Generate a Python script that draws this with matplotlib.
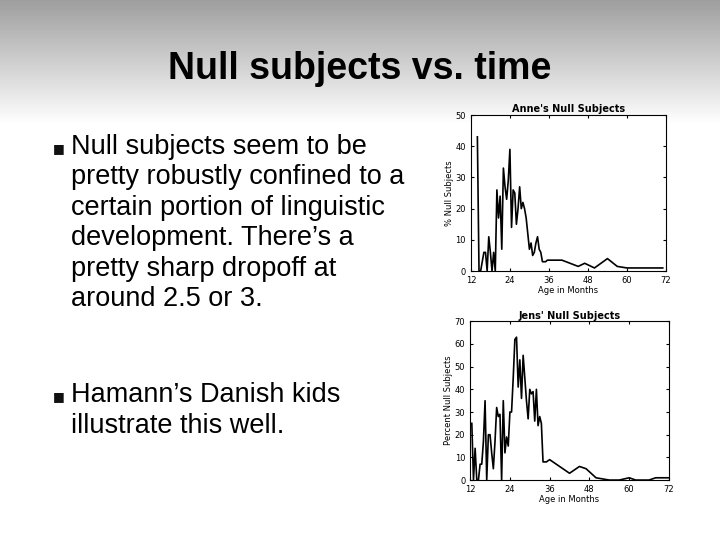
import numpy as np
import matplotlib
matplotlib.use("Agg")
import matplotlib.pyplot as plt

title = "Null subjects vs. time"
bullets = [
    "Null subjects seem to be\npretty robustly confined to a\ncertain portion of linguistic\ndevelopment. There\u2019s a\npretty sharp dropoff at\naround 2.5 or 3.",
    "Hamann\u2019s Danish kids\nillustrate this well.",
]

anne_age = [14, 14.5, 15, 16, 16.5, 17, 17.5, 18, 18.5, 19, 19.5, 20, 20.5, 21, 21.5,
            22, 22.5, 23, 23.5, 24, 24.5, 25, 25.5, 26, 26.5, 27, 27.5, 28, 28.5, 29,
            30, 30.5, 31, 31.5, 32, 32.5, 33, 33.5, 34, 35, 35.5, 36, 40, 45, 47, 50,
            54, 57, 60, 66, 71]
anne_null = [43, 0, 0, 6, 6, 0, 11, 6, 0, 6, 0, 26, 17, 24, 7,
             33, 27, 23, 29, 39, 14, 26, 25, 15, 20, 27, 20, 22, 20, 17,
             7, 9, 5, 6, 9, 11, 7, 6, 3, 3, 3.5, 3.5, 3.5, 1.5, 2.5, 1,
             4, 1.5, 1, 1, 1]

jens_age = [12.5, 13, 13.5, 14, 14.5, 15, 15.5, 16, 16.5, 17, 17.5, 18, 18.5, 19, 19.5,
            20, 20.5, 21, 21.5, 22, 22.5, 23, 23.5, 24, 24.5, 25, 25.5, 26, 26.5, 27,
            27.5, 28, 28.5, 29, 29.5, 30, 30.5, 31, 31.5, 32, 32.5, 33, 33.5, 34, 35,
            36, 42, 45, 47, 50, 54, 57, 60, 62, 66, 68, 72]
jens_null = [25, 0, 14, 0, 0, 7, 7, 17, 35, 0, 20, 20, 12, 5, 17,
             32, 28, 29, 0, 35, 12, 19, 15, 30, 30, 45, 62, 63, 41, 53,
             36, 55, 45, 35, 27, 40, 38, 39, 26, 40, 24, 28, 25, 8, 8,
             9, 3, 6, 5, 1, 0, 0, 1, 0, 0, 1, 1]

fig = plt.figure(figsize=(7.2, 5.4), dpi=100)

# background gradient at top of slide
bg = fig.add_axes([0, 0, 1, 1], zorder=-10)
grad = np.ones((540, 1))
grad[:125, 0] = np.linspace(0.62, 1.0, 125)
bg.imshow(grad, cmap="gray", vmin=0, vmax=1, aspect="auto", extent=[0, 1, 0, 1])
bg.axis("off")

fig.text(0.5, 0.872, title, ha="center", va="center", fontsize=27,
         fontweight="bold", family="Liberation Sans")

for yb, txt in zip([0.725, 0.265], bullets):
    fig.text(0.074, yb, "\u25a0", fontsize=9, va="center", color="#111111")
    fig.text(0.099, yb + 0.027, txt, fontsize=19.5, va="top", linespacing=1.22,
             family="Liberation Sans")

def panel(rect, x, y, ymax, ttl, ylab):
    ax = fig.add_axes(rect)
    ax.plot(x, y, color="black", lw=1.2)
    ax.set_xlim(12, 72)
    ax.set_ylim(0, ymax)
    ax.set_xticks(range(12, 73, 12))
    ax.set_yticks(range(0, ymax + 1, 10))
    ax.tick_params(labelsize=6, length=2, direction="in", top=True, right=True)
    ax.set_title(ttl, fontsize=7, fontweight="bold", pad=2)
    ax.set_xlabel("Age in Months", fontsize=6, labelpad=1)
    ax.set_ylabel(ylab, fontsize=6, labelpad=1)

panel([0.654, 0.498, 0.271, 0.289], anne_age, anne_null, 50,
      "Anne's Null Subjects", "% Null Subjects")
panel([0.653, 0.111, 0.276, 0.294], jens_age, jens_null, 70,
      "Jens' Null Subjects", "Percent Null Subjects")

fig.savefig("out.png", dpi=100)
